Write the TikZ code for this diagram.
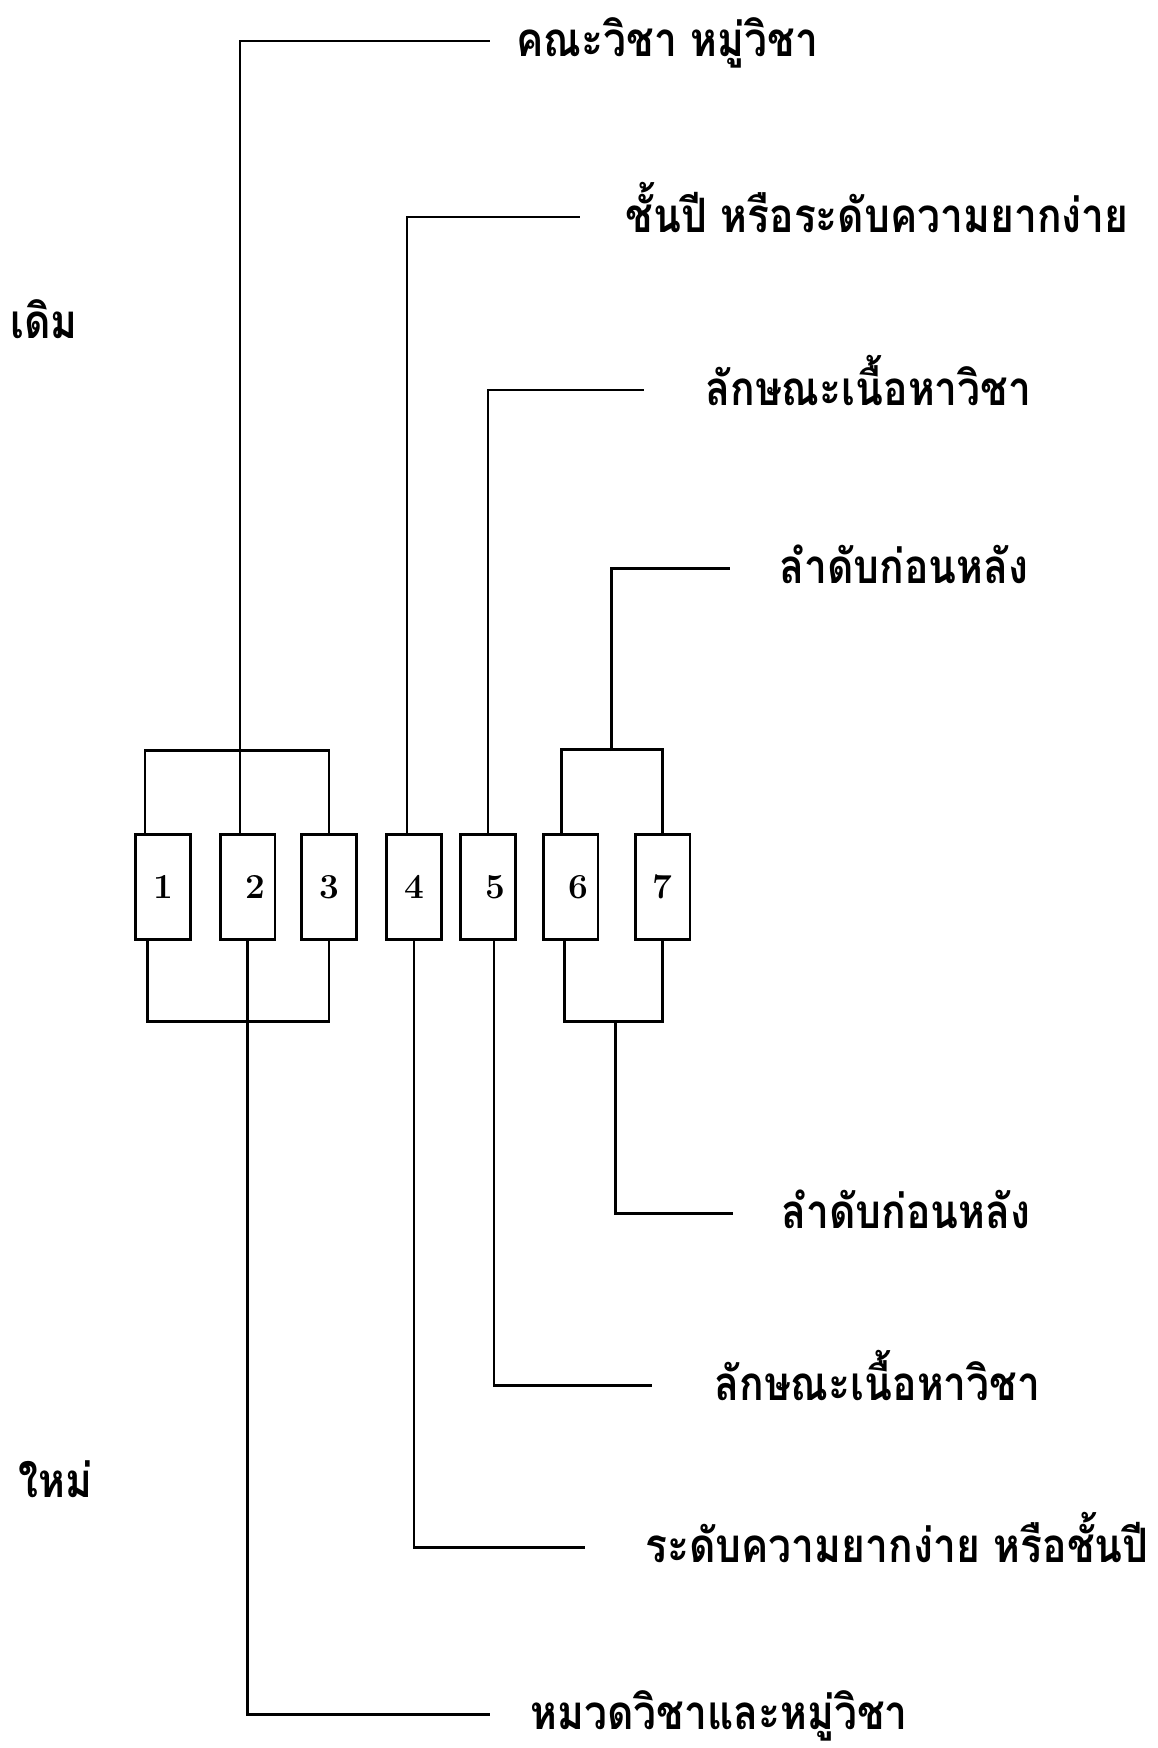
\documentclass[tikz,border=0pt]{standalone}
\usepackage{fontspec}
\newfontfamily\thaifont[Script=Thai,FakeStretch=0.86]{Loma}
\begin{document}
\begin{tikzpicture}[x=0.02cm,y=-0.02cm,line width=1.7pt,
  box/.style={draw,minimum width=1.1cm,minimum height=2.1cm,inner sep=0pt,font=\bfseries\fontsize{20}{20}\selectfont},
  lbl/.style={anchor=base west,inner sep=0pt,font=\thaifont\bfseries\fontsize{27}{27}\selectfont}]
\useasboundingbox (0,0) rectangle (1158,1748);
% boxes
\node[box] (b1) at (163,887) {1};
\node[box] (b2) at (247.5,887) {\hspace*{0.3cm}2};
\node[box] (b3) at (329,887) {3};
\node[box] (b4) at (414,887) {4};
\node[box] (b5) at (488,887) {\hspace*{0.3cm}5};
\node[box] (b6) at (570.5,887) {\hspace*{0.3cm}6};
\node[box] (b7) at (662.5,887) {7};
% labels
\node[lbl] (tA) at (515,56) {คณะวิชา หมู่วิชา};
\node[lbl] (t4t) at (624,232) {ชั้นปี หรือระดับความยากง่าย};
\node[lbl] (t5t) at (704,405) {ลักษณะเนื้อหาวิชา};
\node[lbl] (t67t) at (778,583) {ลำดับก่อนหลัง};
\node[lbl] (t67b) at (780,1228) {ลำดับก่อนหลัง};
\node[lbl] (t5b) at (713,1400) {ลักษณะเนื้อหาวิชา};
\node[lbl] (t4b) at (644,1562) {ระดับความยากง่าย หรือชั้นปี};
\node[lbl] (tB) at (529,1729) {หมวดวิชาและหมู่วิชา};
\node[lbl] (old) at (9,338) {เดิม};
\node[lbl] (new) at (17,1497) {ใหม่};
% line ends
\coordinate (eA) at (490,41);
\coordinate (e4t) at (580,217);
\coordinate (e5t) at (644,390);
\coordinate (e67t) at (730,568);
\coordinate (e67b) at (733,1213);
\coordinate (e5b) at (652,1385);
\coordinate (e4b) at (585,1547);
\coordinate (eB) at (490,1714);
\coordinate (m67t) at (611,751);
\coordinate (m67b) at (615,1020);
% brackets 1-3
\draw ([xshift=-0.36cm]b1.north) -- ++(0,-83) -| (b3.north);
\draw ([xshift=-0.31cm]b1.south) -- ++(0,80.5) -| (b3.south);
% brackets 6-7
\draw ([xshift=-0.19cm]b6.north) -- ++(0,-83.5) -| (b7.north);
\draw ([xshift=-0.13cm]b6.south) -- ++(0,80.5) -| (b7.south);
% connectors
\draw ([xshift=-0.15cm]b2.north) |- (eA);
\draw (b2.south) |- (eB);
\draw ([xshift=-0.14cm]b4.north) |- (e4t);
\draw (b4.south) |- (e4b);
\draw (b5.north) |- (e5t);
\draw ([xshift=0.12cm]b5.south) |- (e5b);
\draw (m67t) |- (e67t);
\draw (m67b) |- (e67b);
\end{tikzpicture}
\end{document}
